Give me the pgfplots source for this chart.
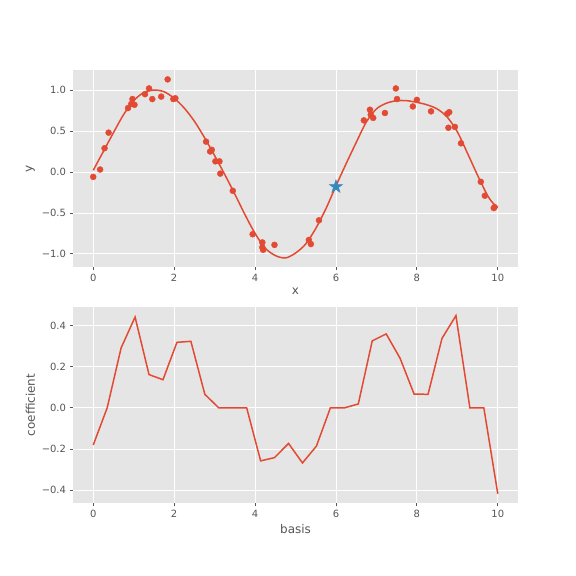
\documentclass[border=0pt]{standalone}
\usepackage{pgfplots}
\pgfplotsset{compat=1.18}
\usepackage{fontspec}
\setmainfont{DejaVu Sans}
\definecolor{bgc}{HTML}{E5E5E5}
\definecolor{tg}{HTML}{555555}
\definecolor{ggred}{HTML}{E24A33}
\definecolor{ggblue}{HTML}{348ABD}
\pgfdeclareplotmark{fstar}{%
 \pgfpathmoveto{\pgfpointpolar{90}{\pgfplotmarksize}}%
 \pgfpathlineto{\pgfpointpolar{126}{0.382\pgfplotmarksize}}%
 \pgfpathlineto{\pgfpointpolar{162}{\pgfplotmarksize}}%
 \pgfpathlineto{\pgfpointpolar{198}{0.382\pgfplotmarksize}}%
 \pgfpathlineto{\pgfpointpolar{234}{\pgfplotmarksize}}%
 \pgfpathlineto{\pgfpointpolar{270}{0.382\pgfplotmarksize}}%
 \pgfpathlineto{\pgfpointpolar{306}{\pgfplotmarksize}}%
 \pgfpathlineto{\pgfpointpolar{342}{0.382\pgfplotmarksize}}%
 \pgfpathlineto{\pgfpointpolar{18}{\pgfplotmarksize}}%
 \pgfpathlineto{\pgfpointpolar{54}{0.382\pgfplotmarksize}}%
 \pgfpathclose\pgfusepathqfillstroke}
\pgfplotsset{gg/.style={
  scale only axis, width=445bp,
  axis background/.style={fill=bgc},
  axis line style={draw=none},
  grid=major, grid style={white, line width=0.8bp},
  tick align=outside, major tick length=3.5bp,
  tick style={color=tg, line width=0.8bp},
  xtick pos=lower, ytick pos=left,
  ticklabel style={font=\fontsize{10}{12}\selectfont, text=tg},
  label style={font=\fontsize{12}{14}\selectfont, text=tg},
  xmin=-0.5, xmax=10.5,
  xtick={0,2,4,6,8,10}, xticklabels={0,2,4,6,8,10},
}}
\begin{document}
\begin{tikzpicture}[x=1bp,y=1bp]
\path[use as bounding box] (0,0) rectangle (576,576);
\begin{axis}[gg, at={(73bp,309bp)}, anchor=south west, height=197bp,
  ymin=-1.16, ymax=1.245,
  ytick={-1,-0.5,0,0.5,1}, yticklabels={−1.0,−0.5,0.0,0.5,1.0},
  xlabel={x}, ylabel={y}]
\addplot[color=ggred, line width=1.5bp, smooth] coordinates {
(0,0.02)(0.25,0.25)(0.5,0.48)(0.75,0.70)(1.0,0.87)(1.25,0.97)(1.5,1.00)(1.75,0.98)
(2.0,0.90)(2.25,0.78)(2.5,0.62)(2.75,0.42)(3.0,0.20)(3.25,-0.03)(3.5,-0.27)(3.75,-0.52)
(4.0,-0.75)(4.25,-0.93)(4.5,-1.02)(4.75,-1.05)(5.0,-0.99)(5.25,-0.88)(5.5,-0.69)
(5.75,-0.45)(6.0,-0.17)(6.25,0.10)(6.5,0.36)(6.75,0.61)(7.0,0.77)(7.25,0.84)(7.5,0.87)
(7.75,0.87)(8.0,0.85)(8.25,0.82)(8.5,0.77)(8.75,0.67)(9.0,0.49)(9.25,0.23)(9.5,-0.04)
(9.75,-0.29)(9.9,-0.39)(10,-0.43)};
\addplot[only marks, mark=*, mark size=3bp, color=ggred] coordinates {
(0,-0.06)(0.17,0.03)(0.28,0.29)(0.38,0.48)(0.86,0.78)(0.94,0.83)(0.97,0.89)(1.02,0.82)
(1.28,0.95)(1.38,1.02)(1.46,0.89)(1.68,0.92)(1.84,1.13)(1.98,0.89)(2.03,0.90)
(2.79,0.37)(2.89,0.25)(2.93,0.27)(3.02,0.13)(3.12,0.13)(3.14,-0.02)(3.45,-0.23)
(3.94,-0.76)(4.18,-0.86)(4.18,-0.92)(4.2,-0.95)(4.48,-0.89)
(5.33,-0.83)(5.38,-0.88)(5.58,-0.59)
(6.69,0.63)(6.84,0.76)(6.86,0.70)(6.92,0.66)(7.21,0.72)(7.48,1.02)(7.51,0.89)
(7.9,0.80)(8.0,0.88)(8.35,0.74)(8.75,0.71)(8.8,0.73)(8.78,0.54)(8.94,0.55)(9.09,0.35)
(9.58,-0.12)(9.68,-0.29)(9.9,-0.44)(9.92,-0.43)};
\addplot[only marks, mark=fstar, mark size=7bp, color=ggblue] coordinates {(6,-0.18)};
\end{axis}
\begin{axis}[gg, at={(73bp,73bp)}, anchor=south west, height=196bp,
  ymin=-0.463, ymax=0.491,
  ytick={-0.4,-0.2,0,0.2,0.4}, yticklabels={−0.4,−0.2,0.0,0.2,0.4},
  xlabel={basis}, ylabel={coefficient}]
\addplot[color=ggred, line width=1.5bp] coordinates {
(0,-0.181)(0.3448,0)(0.6897,0.292)(1.0345,0.442)(1.3793,0.162)(1.7241,0.137)
(2.0690,0.319)(2.4138,0.324)(2.7586,0.066)(3.1034,0)(3.4483,0)(3.7931,0)
(4.1379,-0.258)(4.4828,-0.242)(4.8276,-0.173)(5.1724,-0.268)(5.5172,-0.186)
(5.8621,0)(6.2069,0)(6.5517,0.019)(6.8966,0.326)(7.2414,0.360)(7.5862,0.241)
(7.9310,0.067)(8.2759,0.066)(8.6207,0.338)(8.9655,0.449)(9.3103,0)(9.6552,0)(10,-0.418)};
\end{axis}
\end{tikzpicture}
\end{document}
